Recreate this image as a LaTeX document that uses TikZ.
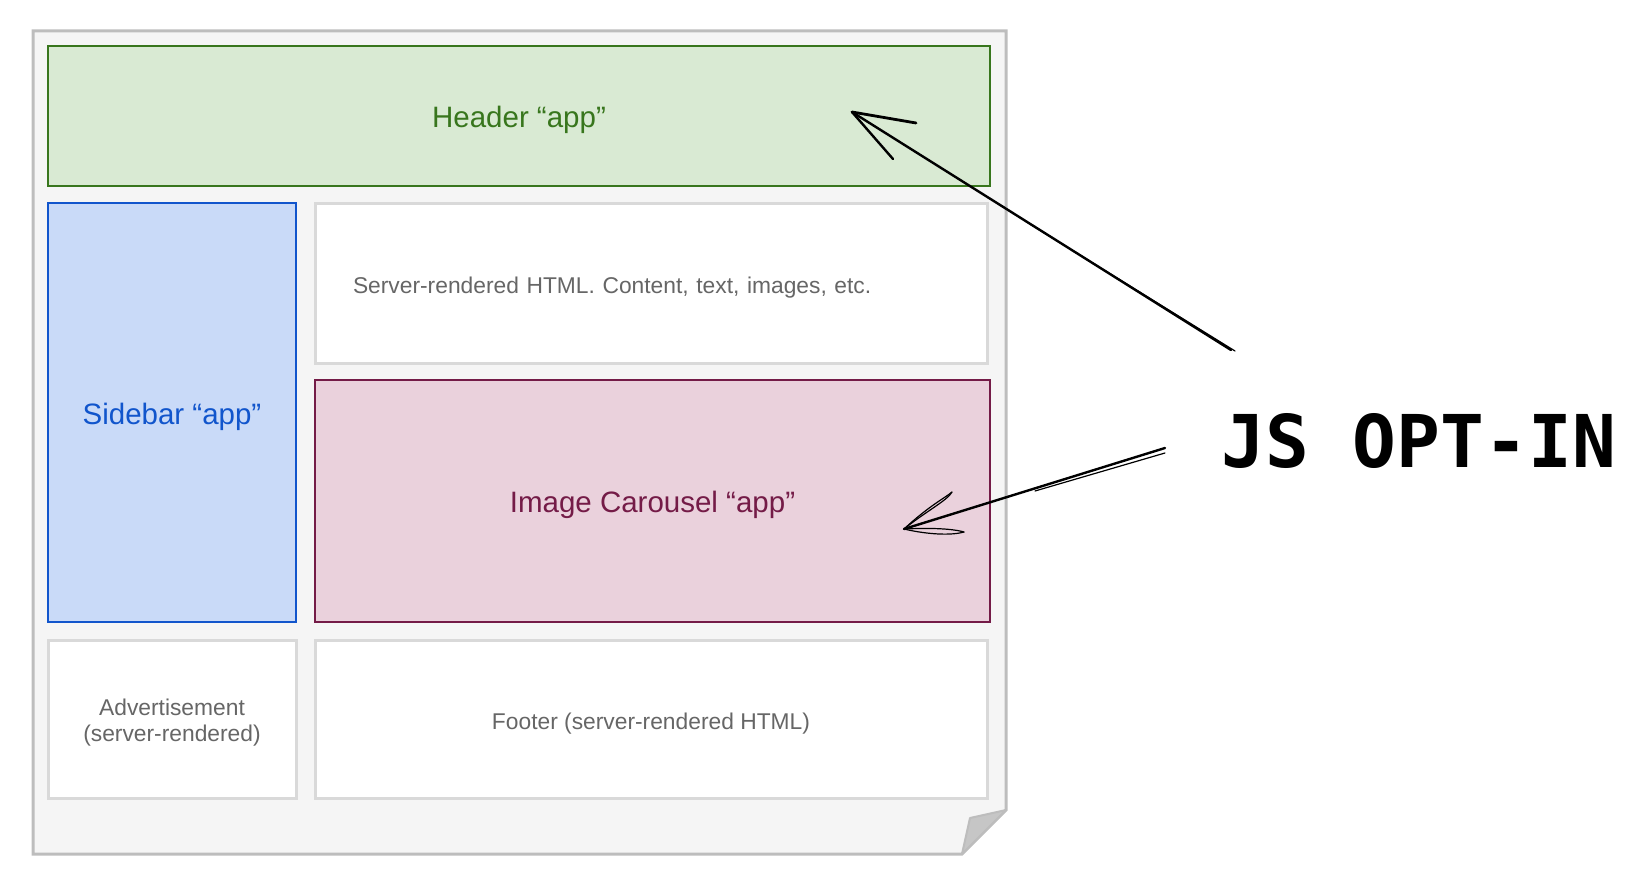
\documentclass[tikz,border=0pt]{standalone}
\usepackage{fontspec}
\usetikzlibrary{calc}
\setmainfont{Liberation Sans}
\newfontfamily\handfont{DejaVu Sans Mono}
\definecolor{pagefill}{HTML}{F5F5F5}
\definecolor{pageline}{HTML}{BDBDBD}
\definecolor{foldfill}{HTML}{C6C6C6}
\definecolor{hdrfill}{HTML}{D9EAD3}
\definecolor{hdrline}{HTML}{38761D}
\definecolor{sidefill}{HTML}{C9DAF8}
\definecolor{sideline}{HTML}{1155CC}
\definecolor{carfill}{HTML}{EAD1DC}
\definecolor{carline}{HTML}{741B47}
\definecolor{srvline}{HTML}{D9D9D9}
\definecolor{srvtext}{HTML}{666666}
\tikzset{
  appbox/.style={draw, line width=1pt, inner sep=0pt, text height=12.3pt, text depth=0.7pt, font=\fontsize{14.75}{17}\selectfont},
  srvbox/.style={draw=srvline, fill=white, line width=1.5pt, inner sep=0pt, text=srvtext, font=\fontsize{11.4}{13}\selectfont},
  hand/.style={black, line width=1.2pt, line cap=round, line join=round},
  handthin/.style={black, line width=0.6pt, line cap=round},
}
\begin{document}
\begin{tikzpicture}[x=0.5pt,y=-0.5pt]
\useasboundingbox (0,0) rectangle (1640,888);
% page
\path[fill=pagefill, draw=pageline, line width=1.5pt] (33,31) -- (1006,31) -- (1006,810) -- (962,854) -- (33,854) -- cycle;
\path[fill=foldfill, draw=pageline, line width=1pt, line join=round] (1006,810) -- (970,818) -- (962,854) -- cycle;
% boxes
\node[appbox, fill=hdrfill, draw=hdrline, text=hdrline, minimum width=471pt, minimum height=70pt] (header) at (519,116) {Header “app”};
\node[appbox, fill=sidefill, draw=sideline, text=sideline, minimum width=124pt, minimum height=209.5pt] (sidebar) at (172,412.5) {Sidebar “app”};
\node[srvbox, text height=10.5pt, text depth=0.5pt, minimum width=336pt, minimum height=79.5pt, inner xsep=19pt, text width=298pt, align=left] (server) at (651,283.5) {Server-rendered HTML. Content, text, images, etc.};
\node[appbox, fill=carfill, draw=carline, text=carline, minimum width=337.5pt, minimum height=121pt] (carousel) at (652.5,501) {Image Carousel “app”};
\node[srvbox, text height=22.5pt, text depth=0.5pt, minimum width=124pt, minimum height=79pt, align=center] (ad) at (172,719) {Advertisement\\(server-rendered)};
\node[srvbox, text height=10.5pt, text depth=0.5pt, minimum width=336pt, minimum height=79pt] (footer) at (651,719) {Footer (server-rendered HTML)};
% label
\node[anchor=base west, inner sep=0pt, font=\handfont\bfseries\fontsize{36.4}{40}\selectfont] (js) at (1221,467) {JS OPT-IN};
% arrow 1
\coordinate (a1tail) at (1231,350);
\coordinate (a1tip) at (852,112);
\coordinate (a1b1) at (916,123);
\coordinate (a1b2) at (893,159);
\coordinate (a1tailb) at (1235,351);
\coordinate (a1mid) at (1025,221);
\draw[hand] (a1tail) -- (a1tip);
\draw[handthin] (a1tailb) -- (a1mid);
\draw[hand, line width=1.4pt] (a1tip) -- (a1b1);
\draw[hand] (a1tip) -- (a1b2);
% arrow 2
\coordinate (a2tail) at (1165,448);
\coordinate (a2tip) at (904,529);
\coordinate (a2b1) at (952,492);
\coordinate (a2b2) at (964,532);
\coordinate (a2tailb) at (1165,453);
\coordinate (a2mid) at (1035,491);
\draw[hand] (a2tail) -- (a2tip);
\draw[handthin] (a2tailb) -- (a2mid);
\draw[handthin] (a2tip) .. controls (930,505) and (945,498) .. (a2b1);
\draw[handthin] (a2tip) .. controls (925,512) and (948,500) .. (a2b1);
\draw[handthin] (a2tip) .. controls (925,528) and (950,528) .. (a2b2);
\draw[handthin] (a2tip) .. controls (925,534) and (950,536) .. (a2b2);
\end{tikzpicture}
\end{document}
